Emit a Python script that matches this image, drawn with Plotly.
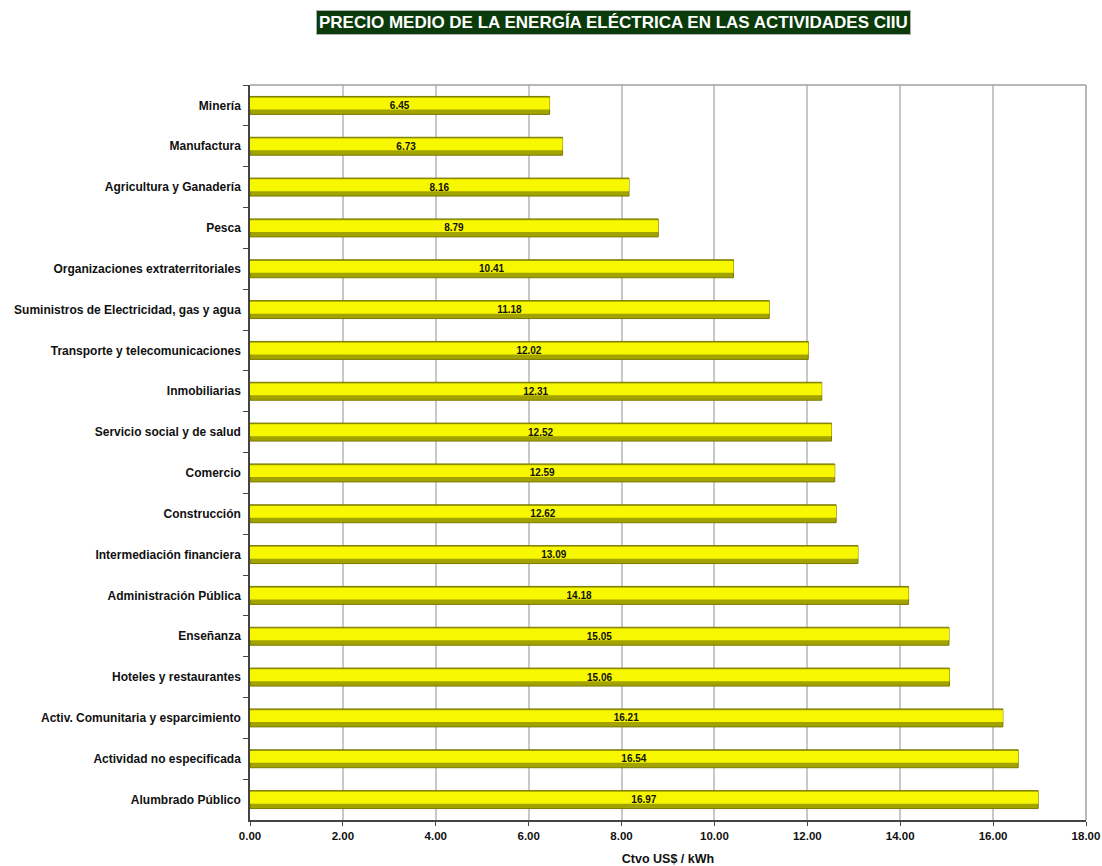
import plotly.graph_objects as go

categories = [
    "Minería", "Manufactura", "Agricultura y Ganadería", "Pesca",
    "Organizaciones extraterritoriales", "Suministros de Electricidad, gas y agua",
    "Transporte y telecomunicaciones", "Inmobiliarias", "Servicio social y de salud",
    "Comercio", "Construcción", "Intermediación financiera", "Administración Pública",
    "Enseñanza", "Hoteles y restaurantes", "Activ. Comunitaria y esparcimiento",
    "Actividad no especificada", "Alumbrado Público",
]
values = [6.45, 6.73, 8.16, 8.79, 10.41, 11.18, 12.02, 12.31, 12.52, 12.59,
          12.62, 13.09, 14.18, 15.05, 15.06, 16.21, 16.54, 16.97]
x_ticks = [0, 2, 4, 6, 8, 10, 12, 14, 16, 18]

FONT = "Arial, Liberation Sans, sans-serif"

fig = go.Figure()
# darker body of the bar (bottom shade)
fig.add_trace(go.Bar(
    y=categories, x=values, orientation="h", width=0.44,
    marker=dict(color="#a3a300", line=dict(color="#7a7a00", width=1)),
    hoverinfo="skip",
))
# bright highlight covering the upper part of each bar
fig.add_trace(go.Bar(
    y=categories, x=values, orientation="h", width=0.29, offset=-0.19,
    marker=dict(color="#f7f700", line=dict(width=0)),
    hoverinfo="skip",
))
# transparent bar carrying the value labels
fig.add_trace(go.Bar(
    y=categories, x=values, orientation="h", width=0.44,
    marker=dict(color="rgba(0,0,0,0)", line=dict(width=0)),
    text=[f"{v:.2f}" for v in values], textposition="inside",
    insidetextanchor="middle",
    textfont=dict(family=FONT, size=10, color="#111111", weight="bold"),
    hoverinfo="skip",
))

fig.update_layout(
    width=1102, height=866,
    margin=dict(l=250, r=16, t=85, b=46),
    barmode="overlay",
    plot_bgcolor="white", paper_bgcolor="white",
    showlegend=False,
    font=dict(family=FONT, size=12, color="#111111"),
    annotations=[dict(
        text="PRECIO MEDIO DE LA ENERGÍA ELÉCTRICA EN LAS ACTIVIDADES CIIU",
        xref="paper", yref="paper", x=(613 - 250) / 836, y=1 + (85 - 22) / 735,
        xanchor="center", yanchor="middle", showarrow=False,
        font=dict(family=FONT, size=17, color="white", weight="bold"),
        bgcolor="#0b3a0b", bordercolor="#b0b0b0", borderwidth=1, borderpad=2,
    )],
)
fig.update_xaxes(
    range=[0, 18], tickvals=x_ticks, ticktext=[f"{t:.2f}" for t in x_ticks],
    showgrid=True, gridcolor="#c8c8c8", gridwidth=1.5,
    showline=True, linecolor="#444444", linewidth=1.5, mirror=False,
    ticks="outside", ticklen=4, tickcolor="#444444",
    tickfont=dict(family=FONT, size=11.5, weight="bold"),
    title=dict(text="Ctvo US$ / kWh", standoff=16,
               font=dict(family=FONT, size=12.5, weight="bold")),
    zeroline=False, automargin=False,
)
fig.update_yaxes(
    autorange="reversed", showgrid=False,
    showline=True, linecolor="#444444", linewidth=1.5,
    ticks="outside", ticklen=5, tickcolor="#444444", tickson="boundaries",
    ticklabelstandoff=5,
    tickfont=dict(family=FONT, size=12, weight="bold"),
    automargin=False,
)
# light frame on top and right
fig.add_shape(type="line", xref="paper", yref="paper", x0=0, x1=1, y0=1, y1=1,
              line=dict(color="#a0a0a0", width=1.5))
fig.add_shape(type="line", xref="paper", yref="paper", x0=1, x1=1, y0=0, y1=1,
              line=dict(color="#a0a0a0", width=1.5))

fig.write_html("out.html")
